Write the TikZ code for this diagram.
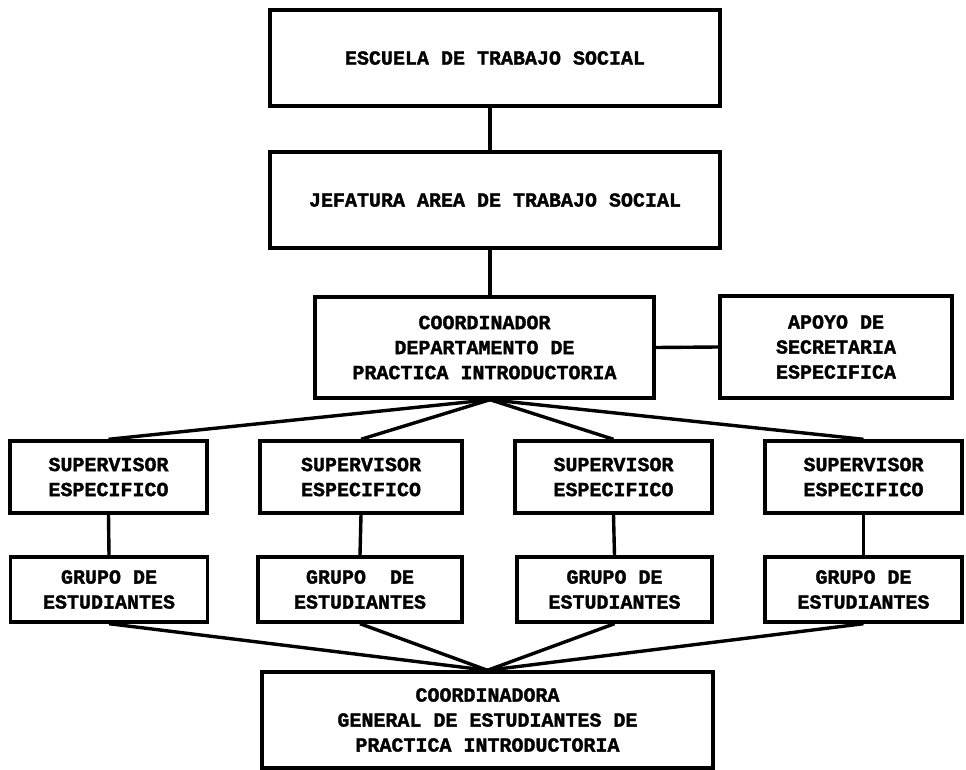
\documentclass[tikz,border=0pt]{standalone}
\usepackage{fontspec}
\setmonofont{Liberation Mono}[BoldFeatures={FakeBold=1.6}]
\begin{document}
\begin{tikzpicture}[x=1pt,y=-1pt,
  box/.style={draw, line width=3.4pt, inner sep=0pt, align=center,
    font=\ttfamily\bfseries\fontsize{20}{25}\selectfont},
  conn/.style={line width=3.4pt}]
\useasboundingbox[fill=white] (0,0) rectangle (966,770);
% top chain
\node[box, minimum width=450pt, minimum height=96pt] (esc) at (495,58) {\raisebox{-5pt}{ESCUELA DE TRABAJO SOCIAL}};
\node[box, minimum width=450pt, minimum height=96pt] (jef) at (495,200) {\raisebox{-8pt}{JEFATURA AREA DE TRABAJO SOCIAL}};
\node[box, minimum width=339pt, minimum height=101pt] (coord) at (484.5,347.5) {COORDINADOR\\DEPARTAMENTO DE\\PRACTICA INTRODUCTORIA};
\node[box, minimum width=232pt, minimum height=102pt] (apoyo) at (836,347) {APOYO DE\\SECRETARIA\\ESPECIFICA};
% supervisors
\node[box, minimum width=197pt, minimum height=72pt] (supA) at (108.5,477) {SUPERVISOR\\ESPECIFICO};
\node[box, minimum width=202pt, minimum height=72pt] (supB) at (361,477) {SUPERVISOR\\ESPECIFICO};
\node[box, minimum width=197pt, minimum height=72pt] (supC) at (613.5,477) {SUPERVISOR\\ESPECIFICO};
\node[box, minimum width=197pt, minimum height=72pt] (supD) at (863.5,477) {SUPERVISOR\\ESPECIFICO};
% groups
\node[box, minimum width=197pt, minimum height=65pt] (grpA) at (109,589.5) {GRUPO DE\\ESTUDIANTES};
\node[box, minimum width=204pt, minimum height=65pt] (grpB) at (360,589.5) {GRUPO\ \ DE\\ESTUDIANTES};
\node[box, minimum width=195pt, minimum height=65pt] (grpC) at (614.5,589.5) {GRUPO DE\\ESTUDIANTES};
\node[box, minimum width=197pt, minimum height=65pt] (grpD) at (863.5,589.5) {GRUPO DE\\ESTUDIANTES};
% bottom
\node[box, minimum width=451pt, minimum height=96pt] (gen) at (487.5,720) {COORDINADORA\\GENERAL DE ESTUDIANTES DE\\PRACTICA INTRODUCTORIA};
% connectors
\draw[conn] (esc.south -| 490,0) -- (jef.north -| 490,0);
\draw[conn] (jef.south -| 490,0) -- (coord.north -| 490,0);
\draw[conn] (coord.east) -- (apoyo.west);
\coordinate (apex) at (coord.south -| 490,0);
\foreach \s in {supA,supB,supC,supD} \draw[conn] (apex) -- (\s.north);
\draw[conn] (supA.south) -- (grpA.north);
\draw[conn] (supB.south) -- (grpB.north);
\draw[conn] (supC.south) -- (grpC.north);
\draw[conn] (supD.south) -- (grpD.north);
\foreach \g in {grpA,grpB,grpC,grpD} \draw[conn] (\g.south) -- (gen.north);
\end{tikzpicture}
\end{document}
